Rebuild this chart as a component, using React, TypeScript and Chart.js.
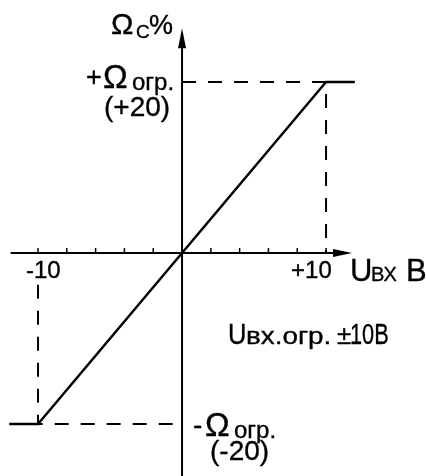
import { useEffect, useRef } from "react";
import { Chart, registerables } from "chart.js";

Chart.register(...registerables);

// Transfer characteristic: input voltage (V) -> output (%)
const inputVolts = [-12, -10, 10, 12];
const outputPercent = [-20, -20, 20, 20];

// Dashed guide lines to the limits
const upperGuideX = [0, 10, 10];
const upperGuideY = [20, 20, 0];
const lowerGuideX = [-10, -10, 0];
const lowerGuideY = [-3.7, -20, -20];

// Axis ticks / labels
const xTickValues = [-10, -8, -6, -4, -2, 2, 4, 6, 8, 10];
const xLabelValues = [-10, 10];
const xLabelTexts = ["-10", "+10"];
const xAxisRange = [-11.9, 11.8];
const yAxisRange = [-26.1, 26.3];

const FONT = '"Liberation Sans", Arial, sans-serif';

function txt(
  ctx: CanvasRenderingContext2D,
  s: string,
  x: number,
  y: number,
  size: number,
  sx = 1
) {
  ctx.save();
  ctx.font = `${size}px ${FONT}`;
  ctx.textBaseline = "alphabetic";
  ctx.textAlign = "left";
  ctx.translate(x, y);
  ctx.scale(sx, 1);
  ctx.fillText(s, 0, 0);
  ctx.lineWidth = 0.35;
  ctx.strokeStyle = "#000";
  ctx.strokeText(s, 0, 0);
  ctx.restore();
}

const axesPlugin = {
  id: "axesPlugin",
  beforeDatasetsDraw(chart: any) {
    const ctx: CanvasRenderingContext2D = chart.ctx;
    const xs = chart.scales.x;
    const ys = chart.scales.y;
    const x0 = xs.getPixelForValue(0);
    const y0 = ys.getPixelForValue(0);
    ctx.save();
    ctx.strokeStyle = "#000";
    ctx.fillStyle = "#000";
    ctx.lineWidth = 2;
    // x axis
    const xl = xs.getPixelForValue(xAxisRange[0]);
    const xr = xs.getPixelForValue(xAxisRange[1]);
    ctx.beginPath();
    ctx.moveTo(xl, y0);
    ctx.lineTo(xr - 10, y0);
    ctx.stroke();
    ctx.beginPath();
    ctx.moveTo(xr, y0);
    ctx.lineTo(xr - 19, y0 - 4);
    ctx.lineTo(xr - 19, y0 + 4);
    ctx.closePath();
    ctx.fill();
    // y axis
    const yt = ys.getPixelForValue(yAxisRange[1]);
    const yb = ys.getPixelForValue(yAxisRange[0]);
    ctx.beginPath();
    ctx.moveTo(x0, yb);
    ctx.lineTo(x0, yt + 10);
    ctx.stroke();
    ctx.beginPath();
    ctx.moveTo(x0, yt);
    ctx.lineTo(x0 - 4, yt + 20);
    ctx.lineTo(x0 + 4, yt + 20);
    ctx.closePath();
    ctx.fill();
    // ticks
    ctx.lineWidth = 1.5;
    for (const v of xTickValues) {
      const px = xs.getPixelForValue(v);
      ctx.beginPath();
      ctx.moveTo(px, y0);
      ctx.lineTo(px, y0 - 5);
      ctx.stroke();
    }
    ctx.restore();
  },
  afterDraw(chart: any) {
    const ctx: CanvasRenderingContext2D = chart.ctx;
    const xs = chart.scales.x;
    const y0 = chart.scales.y.getPixelForValue(0);
    ctx.save();
    ctx.fillStyle = "#000";
    // tick labels
    xLabelValues.forEach((v, i) => {
      const px = xs.getPixelForValue(v);
      const off = v < 0 ? -12 : -35;
      txt(ctx, xLabelTexts[i], px + off, y0 + 25, 24);
    });
    // y axis title
    txt(ctx, "Ω", 111, 34, 30);
    txt(ctx, "C", 136, 38, 19);
    txt(ctx, "%", 149, 34, 27);
    // upper limit
    txt(ctx, "+", 86, 86, 27);
    txt(ctx, "Ω", 103, 88, 33);
    txt(ctx, "огр.", 132, 90, 24);
    txt(ctx, "(+20)", 104, 116, 28);
    // lower limit
    txt(ctx, "-", 193, 434, 28);
    txt(ctx, "Ω", 205, 436, 33);
    txt(ctx, "огр.", 234, 438, 24);
    txt(ctx, "(-20)", 210, 460, 28);
    // x axis title
    txt(ctx, "U", 350, 281, 31);
    txt(ctx, "ВХ", 371, 281, 20);
    txt(ctx, "B", 406, 281, 31);
    // input limit note
    txt(ctx, "U", 228, 344, 29, 0.88);
    txt(ctx, "вх.огр.", 246, 344, 24, 1.16);
    txt(ctx, "±", 337, 344, 26);
    txt(ctx, "10B", 350, 344, 29, 0.75);
    ctx.restore();
  },
};

export default function App() {
  const ref = useRef<HTMLCanvasElement>(null);
  useEffect(() => {
    document.body.style.margin = "0";
    document.body.style.overflow = "hidden";
    const toPts = (xs: number[], ys: number[]) => xs.map((x, i) => ({ x, y: ys[i] }));
    const chart = new Chart(ref.current as HTMLCanvasElement, {
      type: "scatter",
      data: {
        datasets: [
          {
            data: toPts(inputVolts, outputPercent),
            showLine: true,
            borderColor: "#000",
            borderWidth: 2.4,
            pointRadius: 0,
            fill: false,
          },
          {
            data: toPts(upperGuideX, upperGuideY),
            showLine: true,
            borderColor: "#000",
            borderWidth: 2,
            borderDash: [14, 12],
            pointRadius: 0,
            fill: false,
          },
          {
            data: toPts(lowerGuideX, lowerGuideY),
            showLine: true,
            borderColor: "#000",
            borderWidth: 2,
            borderDash: [14, 12],
            pointRadius: 0,
            fill: false,
          },
        ],
      },
      options: {
        animation: false,
        responsive: false,
        layout: { padding: 0 },
        plugins: { legend: { display: false }, tooltip: { enabled: false } },
        scales: {
          x: { type: "linear", min: -12.64, max: 16.94, display: false },
          y: { type: "linear", min: -26.08, max: 29.59, display: false },
        },
      },
      plugins: [axesPlugin],
    });
    return () => chart.destroy();
  }, []);
  return (
    <div style={{ width: 426, height: 476, background: "#fff" }}>
      <canvas ref={ref} width={426} height={476} style={{ display: "block" }} />
    </div>
  );
}
